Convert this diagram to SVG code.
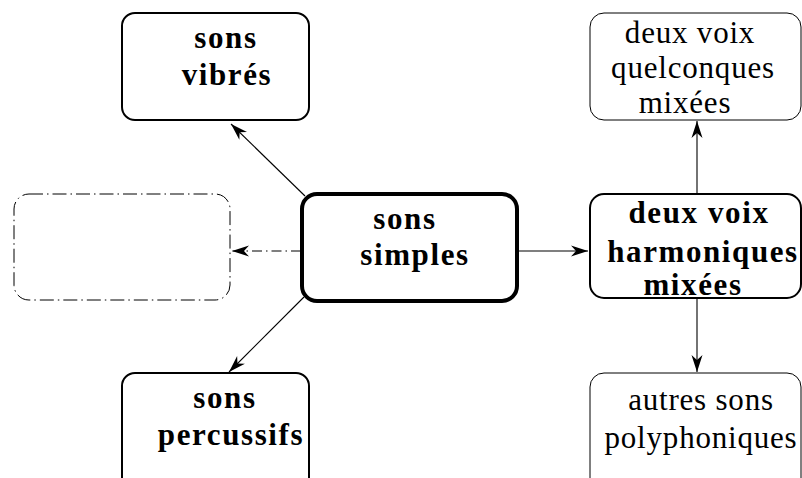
<svg xmlns="http://www.w3.org/2000/svg" width="802" height="478" viewBox="0 0 802 478">
<defs>
<style>
.box{fill:#fff;stroke:#000}
.b{font-family:"Liberation Serif","Times New Roman",serif;font-weight:bold;font-size:31px;letter-spacing:1.6px;text-anchor:middle}
.r{font-family:"Liberation Serif","Times New Roman",serif;font-size:31px;letter-spacing:0.8px;text-anchor:middle}
.edge{stroke:#000;stroke-width:1.1;fill:none;marker-end:url(#ah)}
</style>
<marker id="ah" viewBox="-17 -6 18 12" refX="0" refY="0" markerWidth="18" markerHeight="12" markerUnits="userSpaceOnUse" orient="auto">
<path d="M0,0 L-17,-5.5 L-12,0 L-17,5.5 Z" fill="#000"/>
</marker>
</defs>
<rect width="802" height="478" fill="#fff"/>
<g id="connectors">
<line class="edge" x1="305" y1="196" x2="231" y2="124"/>
<line class="edge" x1="304" y1="297" x2="229" y2="372"/>
<line class="edge" x1="301" y1="251" x2="232" y2="251" stroke-dasharray="10 4 1.5 4"/>
<line class="edge" x1="518" y1="251" x2="588" y2="251"/>
<line class="edge" x1="697" y1="193" x2="697" y2="121"/>
<line class="edge" x1="697" y1="298" x2="697" y2="372"/>
</g>
<g id="vibres">
<rect class="box" x="122" y="13" width="187" height="107" rx="13" stroke-width="2"/>
<text class="b" x="226" y="48">sons</text>
<text class="b" x="227" y="85">vibrés</text>
</g>
<g id="percussifs">
<rect class="box" x="122" y="373" width="187" height="120" rx="13" stroke-width="2"/>
<text class="b" x="225" y="408">sons</text>
<text class="b" x="231" y="445">percussifs</text>
</g>
<g id="vide">
<rect x="14" y="194" width="216" height="106" rx="15" fill="none" stroke="#000" stroke-width="1" stroke-dasharray="14 4 1.5 4"/>
</g>
<g id="simples">
<rect class="box" x="302" y="194" width="215" height="107" rx="15" stroke-width="4"/>
<text class="b" x="405" y="229">sons</text>
<text class="b" x="415" y="265">simples</text>
</g>
<g id="harmoniques">
<rect class="box" x="590" y="194" width="211" height="104" rx="14" stroke-width="2"/>
<text class="b" x="699" y="223">deux voix</text>
<text class="b" x="703" y="262">harmoniques</text>
<text class="b" x="693" y="295">mixées</text>
</g>
<g id="quelconques">
<rect class="box" x="590" y="13" width="211" height="107" rx="14" stroke-width="1"/>
<text class="r" x="690" y="43">deux voix</text>
<text class="r" x="693" y="78">quelconques</text>
<text class="r" x="685" y="113">mixées</text>
</g>
<g id="polyphoniques">
<rect class="box" x="590" y="373" width="211" height="120" rx="14" stroke-width="1"/>
<text class="r" x="701" y="410">autres sons</text>
<text class="r" x="701" y="448">polyphoniques</text>
</g>
</svg>
